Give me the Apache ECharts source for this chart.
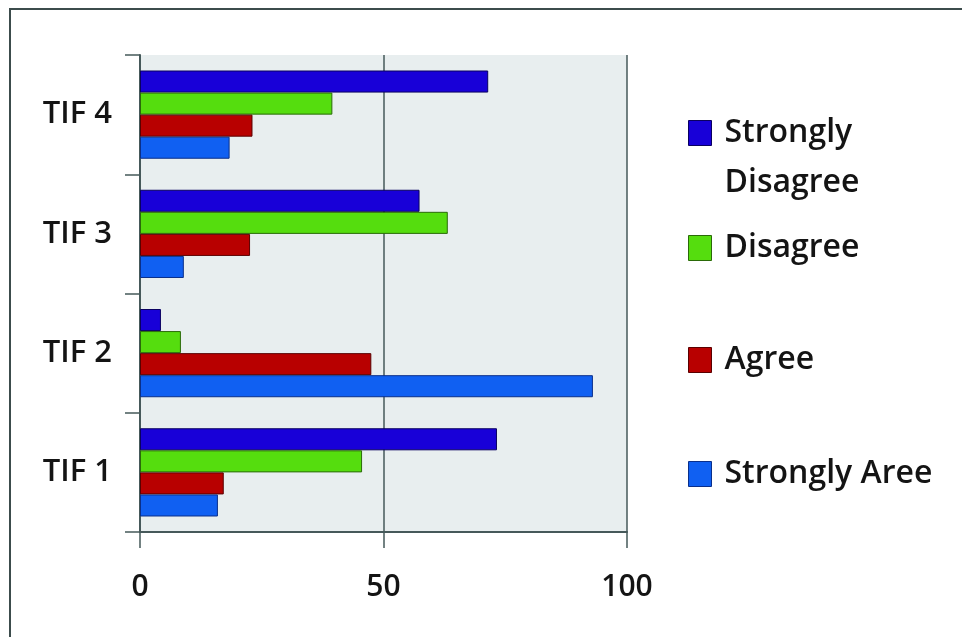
<!DOCTYPE html>
<html>
<head>
<meta charset="utf-8">
<script src="https://cdn.jsdelivr.net/npm/echarts@6/dist/echarts.min.js"></script>
<style>
  html, body { margin: 0; padding: 0; background: #ffffff; }
  #chart { width: 962px; height: 637px; }
</style>
</head>
<body>
<div id="chart"></div>
<script>
// Survey responses per item (percent)
const categories = ['TIF 1', 'TIF 2', 'TIF 3', 'TIF 4'];
const stronglyAgree = [16, 93, 9, 18.4];
const agree = [17.2, 47.5, 22.6, 23.1];
const disagree = [45.6, 8.4, 63.2, 39.5];
const stronglyDisagree = [73.3, 4.3, 57.4, 71.5];
const xTicks = [0, 50, 100];

const FONT = '"Open Sans", Lato, sans-serif';
const AXIS_COLOR = '#46595a';

// First series sits at the top of each group
const seriesDefs = [
  { name: 'Strongly Disagree', data: stronglyDisagree, color: '#1800d8', border: '#0a0060' },
  { name: 'Disagree', data: disagree, color: '#55dd0e', border: '#2a6a08' },
  { name: 'Agree', data: agree, color: '#b80000', border: '#5a0000' },
  { name: 'Strongly Aree', data: stronglyAgree, color: '#1060f2', border: '#0a2f8a' }
];

// Legend entries: label lines and the vertical centre of the swatch.
// A wrapped label keeps its first line beside the swatch, so a blank
// line is put above it to balance the block around the swatch centre.
const legendItems = [
  { name: 'Strongly Disagree', lines: ['Strongly', 'Disagree'], center: 131 },
  { name: 'Disagree', lines: ['Disagree'], center: 246 },
  { name: 'Agree', lines: ['Agree'], center: 358 },
  { name: 'Strongly Aree', lines: ['Strongly Aree'], center: 472 }
];
const LINE_H = 50;

function legendFor(item) {
  const padded = item.lines.length > 1 ? [' '].concat(item.lines) : item.lines;
  const boxH = padded.length * LINE_H;
  return {
    data: [{ name: item.name, icon: 'rect' }],
    left: 688,
    top: item.center - boxH / 2,
    padding: 0,
    orient: 'vertical',
    itemWidth: 23,
    itemHeight: 25,
    formatter: () => padded.join('\n'),
    textStyle: {
      fontFamily: FONT, fontSize: 32, fontWeight: 600, color: '#141414',
      lineHeight: LINE_H, padding: [4, 0, 0, 8]
    },
    itemStyle: { borderWidth: 1 },
    selectedMode: false
  };
}

const chart = echarts.init(document.getElementById('chart'), null, { renderer: 'canvas' });
chart.setOption({
  animation: false,
  backgroundColor: '#ffffff',
  graphic: [
    {
      type: 'polyline',
      shape: { points: [[10, 645], [10, 9], [970, 9]] },
      style: { stroke: '#3c4c4c', lineWidth: 2, fill: null }
    }
  ],
  grid: {
    left: 140, right: 335, top: 55, bottom: 105,
    show: true, backgroundColor: '#e8eeef', borderWidth: 0
  },
  legend: legendItems.map(legendFor),
  xAxis: {
    type: 'value',
    min: xTicks[0], max: xTicks[xTicks.length - 1], interval: 50,
    axisLine: { show: true, lineStyle: { color: AXIS_COLOR, width: 2 } },
    axisTick: { show: true, length: 16, lineStyle: { color: AXIS_COLOR, width: 1.5 } },
    axisLabel: { margin: 40, fontFamily: FONT, fontSize: 30, fontWeight: 600, color: '#141414' },
    splitLine: { show: true, lineStyle: { color: AXIS_COLOR, width: 1.5 } }
  },
  yAxis: {
    type: 'category',
    data: categories,
    axisLine: { show: true, lineStyle: { color: AXIS_COLOR, width: 2 } },
    axisTick: { show: true, length: 15, lineStyle: { color: AXIS_COLOR, width: 1.5 } },
    axisLabel: { margin: 28, fontFamily: FONT, fontSize: 31, fontWeight: 600, color: '#141414' }
  },
  series: seriesDefs.map(s => ({
    name: s.name,
    type: 'bar',
    data: s.data,
    barGap: '0%',
    barCategoryGap: '26%',
    itemStyle: { color: s.color, borderColor: s.border, borderWidth: 1 }
  }))
});
</script>
</body>
</html>
